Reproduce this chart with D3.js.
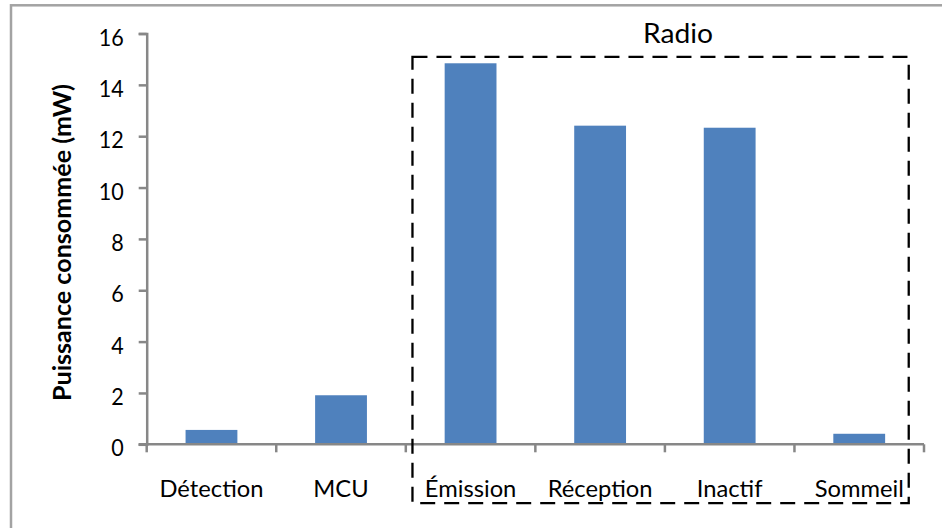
<!DOCTYPE html>
<html>
<head>
<meta charset="utf-8">
<script src="https://cdn.jsdelivr.net/npm/d3@7"></script>
<style>
  html, body { margin: 0; padding: 0; background: #fff; }
  svg { display: block; }
  text { font-family: Lato, "Open Sans", sans-serif; fill: #000; }
</style>
</head>
<body>
<svg id="chart" width="942" height="528"></svg>
<script>
// ---- data ----
const categories = ["Détection", "MCU", "Émission", "Réception", "Inactif", "Sommeil"];
const values = [0.56, 1.91, 14.84, 12.41, 12.33, 0.41];
const yTicks = [0, 2, 4, 6, 8, 10, 12, 14, 16];
const yTitle = "Puissance consommée (mW)";
const groupLabel = "Radio";
const groupMembers = ["Émission", "Réception", "Inactif", "Sommeil"];

// ---- layout ----
const W = 942, H = 528;
const svg = d3.select("#chart");

// outer frame
svg.append("rect")
  .attr("x", 11).attr("y", 5.3)
  .attr("width", W + 20).attr("height", H + 20)
  .attr("fill", "none").attr("stroke", "#a3a3a3").attr("stroke-width", 2.5);

const x = d3.scaleBand().domain(categories).range([146.7, 924])
  .paddingInner(0.6).paddingOuter(0.3);
const y = d3.scaleLinear().domain([0, 16]).range([444.3, 33.5]);

// helper: condense a group of text nodes so a reference string gets a target width
function condense(sel, refStr, target) {
  const nodes = sel.nodes();
  const ref = nodes.find(n => n.textContent === refStr) || nodes[0];
  const k = target / ref.getComputedTextLength();
  nodes.forEach(n => {
    const w = n.getComputedTextLength();
    d3.select(n).attr("textLength", w * k).attr("lengthAdjust", "spacingAndGlyphs");
  });
}

const axisColor = "#878787";

// bars
svg.append("g").selectAll("rect")
  .data(categories.map((c, i) => ({ c, v: values[i] })))
  .join("rect")
  .attr("x", d => x(d.c))
  .attr("y", d => y(d.v))
  .attr("width", x.bandwidth())
  .attr("height", d => y(0) - y(d.v))
  .attr("fill", "#4f81bd");

// y axis
const yAxis = svg.append("g").attr("transform", `translate(${x.range()[0]},0)`)
  .call(d3.axisLeft(y).tickValues(yTicks).tickSize(8).tickPadding(15).tickFormat(d3.format("d")));
yAxis.select(".domain").attr("stroke", axisColor).attr("stroke-width", 2.5);
yAxis.selectAll(".tick line").attr("stroke", axisColor).attr("stroke-width", 2.5);
const yTickText = yAxis.selectAll(".tick text")
  .attr("font-size", 23.5).attr("font-family", "Lato, sans-serif")
  .attr("fill", "#000").attr("dy", null).attr("y", 11.6);
condense(yTickText, "16", 25);

// x axis with ticks at category boundaries
const bounds = [];
const step = x.step();
const x0 = x.range()[0];
for (let i = 0; i <= categories.length; i++) bounds.push(x0 + i * step);
const xg = svg.append("g");
xg.append("line")
  .attr("x1", x0 - 8).attr("x2", x.range()[1])
  .attr("y1", y(0)).attr("y2", y(0))
  .attr("stroke", axisColor).attr("stroke-width", 2.5);
xg.selectAll("line.tk").data(bounds).join("line").attr("class", "tk")
  .attr("x1", d => d).attr("x2", d => d)
  .attr("y1", y(0)).attr("y2", y(0) + 8)
  .attr("stroke", axisColor).attr("stroke-width", 2.5);
const catText = xg.selectAll("text").data(categories).join("text")
  .attr("x", d => x(d) + x.bandwidth() / 2)
  .attr("y", 497.3)
  .attr("text-anchor", "middle")
  .attr("font-size", 23.7)
  .text(d => d);
condense(catText, "Détection", 104);

// y title
const title = svg.append("text")
  .attr("transform", `translate(71,242.5) rotate(-90)`)
  .attr("text-anchor", "middle")
  .attr("font-weight", "bold")
  .attr("font-size", 23.9)
  .text(yTitle);
condense(title, yTitle, 317);

// dashed group box
const first = groupMembers[0], last = groupMembers[groupMembers.length - 1];
const bx0 = x(first) - 32.2;
const bx1 = x(last) + x.bandwidth() + 23.6;
const by0 = y(16) + 23.4;
const by1 = y(0) + 58.8;
svg.append("rect")
  .attr("x", bx0).attr("y", by0)
  .attr("width", bx1 - bx0).attr("height", by1 - by0)
  .attr("fill", "none").attr("stroke", "#000")
  .attr("stroke-width", 2.3).attr("stroke-dasharray", "15,9");

const radio = svg.append("text")
  .attr("x", (bx0 + bx1) / 2 + 17.4)
  .attr("y", 42.7)
  .attr("text-anchor", "middle")
  .attr("font-size", 26)
  .text(groupLabel);
condense(radio, groupLabel, 70);
</script>
</body>
</html>
